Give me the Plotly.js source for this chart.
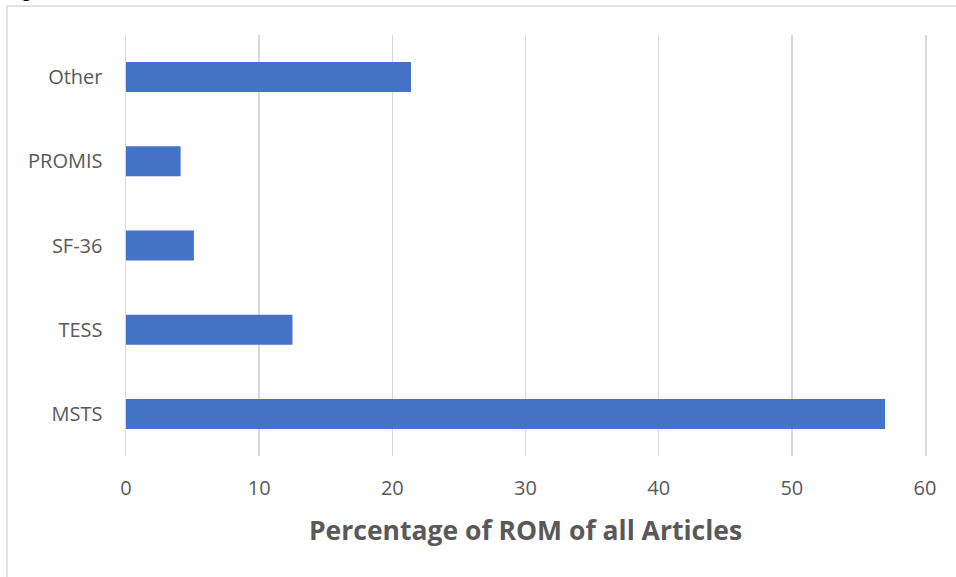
<!DOCTYPE html>
<html>
<head>
<meta charset="utf-8">
<script src="https://cdn.plot.ly/plotly-3.0.1.min.js"></script>
<style>html,body{margin:0;padding:0;background:#fff;}#chart{width:956px;height:577px;}</style>
</head>
<body>
<div id="chart"></div>
<script>
const categories = ["MSTS", "TESS", "SF-36", "PROMIS", "Other"];
const percentages = [57.0, 12.5, 5.1, 4.1, 21.4];
const xTicks = [0, 10, 20, 30, 40, 50, 60];
const xTitle = "Percentage of ROM of all Articles";

const font = '"Open Sans", "Noto Sans", sans-serif';
const trace = {
  type: 'bar',
  orientation: 'h',
  y: categories,
  x: percentages,
  width: 0.356,
  marker: {color: '#4472c4', line: {color: '#4472c4', width: 0}},
  hoverinfo: 'skip'
};
const layout = {
  width: 956, height: 577,
  margin: {l: 126, r: 31, t: 35, b: 121},
  paper_bgcolor: '#fff', plot_bgcolor: '#fff',
  showlegend: false,
  font: {family: font, color: '#595959', size: 20},
  xaxis: {
    range: [0, 60], tickvals: xTicks, ticktext: xTicks.map(String),
    showgrid: true, gridcolor: '#d9d9d9', gridwidth: 1.5,
    zeroline: false, showline: false, ticks: '',
    ticklabelstandoff: 18,
    tickfont: {family: font, size: 20, color: '#595959'},
    title: {text: xTitle, font: {family: font, size: 26.5, color: '#595959', weight: 'bold'}, standoff: 21}
  },
  yaxis: {
    type: 'category', categoryorder: 'array', categoryarray: categories,
    range: [-0.5, 4.5],
    showgrid: false, zeroline: false,
    showline: true, mirror: true, linecolor: '#d9d9d9', linewidth: 1.5,
    ticks: '',
    ticklabelstandoff: 18,
    tickfont: {family: font, size: 20, color: '#595959'}
  },
  shapes: [{
    type: 'rect', xref: 'paper', yref: 'paper',
    x0: -0.149, x1: 1.2, y0: -0.4, y1: 1.0689,
    line: {color: '#d9d9d9', width: 1.5}, fillcolor: 'rgba(0,0,0,0)', layer: 'below'
  }],
  annotations: [{
    xref: 'paper', yref: 'paper', x: -0.124, y: 1.0736,
    xanchor: 'center', yanchor: 'bottom', showarrow: false,
    text: 'g', font: {family: font, size: 16, color: '#000', weight: 'bold'}
  }]
};
Plotly.newPlot('chart', [trace], layout, {displayModeBar: false, staticPlot: true});
</script>
</body>
</html>
